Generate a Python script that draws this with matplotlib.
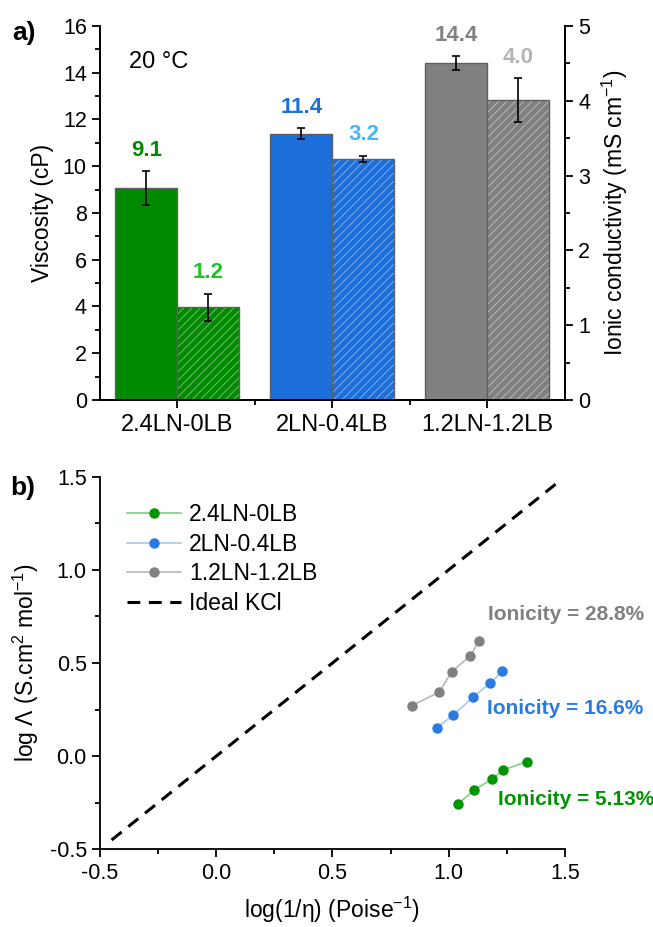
import matplotlib
matplotlib.use("Agg")
import matplotlib.pyplot as plt
import numpy as np

plt.rcParams["font.family"] = ["Liberation Sans", "DejaVu Sans"]
plt.rcParams["mathtext.fontset"] = "custom"
plt.rcParams["mathtext.rm"] = "Liberation Sans"
plt.rcParams["mathtext.it"] = "Liberation Sans:italic"
plt.rcParams["axes.unicode_minus"] = False
plt.rcParams["hatch.linewidth"] = 0.6

# panel a) data
categories = ["2.4LN-0LB", "2LN-0.4LB", "1.2LN-1.2LB"]
viscosity = [9.07, 11.39, 14.41]
visc_err = [0.73, 0.24, 0.29]
conductivity = [1.24, 3.22, 4.01]
cond_err = [0.18, 0.045, 0.29]
visc_labels = ["9.1", "11.4", "14.4"]
cond_labels = ["1.2", "3.2", "4.0"]

# panel b) data: log(1/eta) vs log Lambda
series_names = ["2.4LN-0LB", "2LN-0.4LB", "1.2LN-1.2LB"]
log_inv_eta = [
    [1.039, 1.109, 1.188, 1.235, 1.335],
    [0.950, 1.020, 1.106, 1.179, 1.231],
    [0.840, 0.959, 1.013, 1.093, 1.131],
]
log_lambda = [
    [-0.257, -0.183, -0.121, -0.074, -0.030],
    [0.153, 0.221, 0.318, 0.393, 0.455],
    [0.271, 0.343, 0.453, 0.539, 0.620],
]
ionicity = ["Ionicity = 5.13%", "Ionicity = 16.6%", "Ionicity = 28.8%"]
kcl_x = [-0.45, 1.47]

bar_col = ["#008a00", "#1c6edb", "#808080"]
visc_txt_col = ["#008a00", "#1c6edb", "#808080"]
cond_txt_col = ["#1fc21f", "#45b6fa", "#b4b4b4"]
mk_col = ["#009400", "#2a7be0", "#808080"]
ln_col = ["#7fd07f", "#a9c8f2", "#b8b8b8"]
ion_pos = [(1.212, -0.23), (1.165, 0.258), (1.169, 0.758)]

fig = plt.figure(figsize=(6.53, 9.27), dpi=100)

# ---------------- panel a ----------------
ax = fig.add_axes([0.1531, 0.5685, 0.7121, 0.4035])
ax2 = ax.twinx()
x = np.arange(1, len(categories) + 1)
w = 0.4
ax.bar(x - w / 2, viscosity, w, color=bar_col, edgecolor="#606060", linewidth=1, zorder=2)
ax.errorbar(x - w / 2, viscosity, yerr=visc_err, fmt="none", ecolor="black",
            elinewidth=1.2, capsize=3, capthick=1.2, zorder=3)
ax2.bar(x + w / 2, conductivity, w, color=bar_col, edgecolor=(1, 1, 1, 0.5),
        hatch="////", linewidth=0, zorder=2)
ax2.bar(x + w / 2, conductivity, w, fill=False, edgecolor="#606060", linewidth=1, zorder=2)
ax2.errorbar(x + w / 2, conductivity, yerr=cond_err, fmt="none", ecolor="black",
             elinewidth=1.2, capsize=3, capthick=1.2, zorder=3)

for i in range(len(categories)):
    ax.annotate(visc_labels[i], (x[i] - w / 2, viscosity[i] + visc_err[i]),
                xytext=(0, 15), textcoords="offset points", ha="center", va="center",
                fontsize=16, fontweight="bold", color=visc_txt_col[i])
    ax2.annotate(cond_labels[i], (x[i] + w / 2, conductivity[i] + cond_err[i]),
                 xytext=(0, 15), textcoords="offset points", ha="center", va="center",
                 fontsize=16, fontweight="bold", color=cond_txt_col[i])

ax.set_xlim(0.5, 3.5)
ax.set_ylim(0, 16)
ax2.set_ylim(0, 5)
ax.set_yticks(np.arange(0, 17, 2))
ax.set_yticks(np.arange(1, 16, 2), minor=True)
ax2.set_yticks(np.arange(0, 6, 1))
ax2.set_yticks(np.arange(0.5, 5, 1), minor=True)
ax.set_xticks(x)
ax.set_xticklabels(categories)
ax.set_xticks([1.5, 2.5], minor=True)
for a in (ax, ax2):
    a.spines["top"].set_visible(False)
    for s in a.spines.values():
        s.set_linewidth(1.3)
    a.tick_params(which="major", direction="out", length=6, width=1.3, labelsize=15.5)
    a.tick_params(which="minor", direction="out", length=3.5, width=1.3)
ax.tick_params(axis="x", labelsize=17, pad=4)
ax.set_ylabel("Viscosity (cP)", fontsize=16.5, labelpad=6)
ax2.set_ylabel("Ionic conductivity (mS cm$^{-1}$)", fontsize=16.5, labelpad=7)
ax.text(0.687, 14.46, "20 °C", fontsize=17, va="center", ha="left")
fig.text(0.019, 0.964, "a)", fontsize=19, fontweight="bold", va="center")

# ---------------- panel b ----------------
bx = fig.add_axes([0.1531, 0.0838, 0.7121, 0.402])
for i, name in enumerate(series_names):
    bx.plot(log_inv_eta[i], log_lambda[i], "-", color=ln_col[i], linewidth=1.2,
            marker="o", markersize=6.5, markerfacecolor=mk_col[i],
            markeredgecolor=mk_col[i], label=name)
bx.plot(kcl_x, kcl_x, color="black", linestyle=(0, (4.2, 2.8)), linewidth=2.2, label="Ideal KCl")
for i in range(len(ionicity)):
    bx.text(ion_pos[i][0], ion_pos[i][1], ionicity[i], fontsize=15, fontweight="bold",
            color=mk_col[i], ha="left", va="center")

bx.set_xlim(-0.5, 1.5)
bx.set_ylim(-0.5, 1.5)
bx.set_xticks(np.arange(-0.5, 1.51, 0.5))
bx.set_xticks(np.arange(-0.25, 1.5, 0.5), minor=True)
bx.set_yticks(np.arange(-0.5, 1.51, 0.5))
bx.set_yticks(np.arange(-0.25, 1.5, 0.5), minor=True)
bx.xaxis.set_major_formatter(matplotlib.ticker.FormatStrFormatter("%.1f"))
bx.yaxis.set_major_formatter(matplotlib.ticker.FormatStrFormatter("%.1f"))
bx.spines["top"].set_visible(False)
bx.spines["right"].set_visible(False)
for s in bx.spines.values():
    s.set_linewidth(1.3)
bx.tick_params(which="major", direction="out", length=6, width=1.3, labelsize=15.5)
bx.tick_params(which="minor", direction="out", length=3.5, width=1.3)
bx.set_xlabel("log(1/η) (Poise$^{-1}$)", fontsize=16.5, labelpad=8)
bx.set_ylabel("log Λ (S.cm$^{2}$ mol$^{-1}$)", fontsize=16.5, labelpad=6)
bx.legend(loc="upper left", bbox_to_anchor=(0.058, 0.93), frameon=False, fontsize=16.5,
          handlelength=2.35, handletextpad=0.35, labelspacing=0.3, borderpad=0,
          borderaxespad=0)
fig.text(0.015, 0.474, "b)", fontsize=19, fontweight="bold", va="center")

fig.savefig("out.png", dpi=100)
